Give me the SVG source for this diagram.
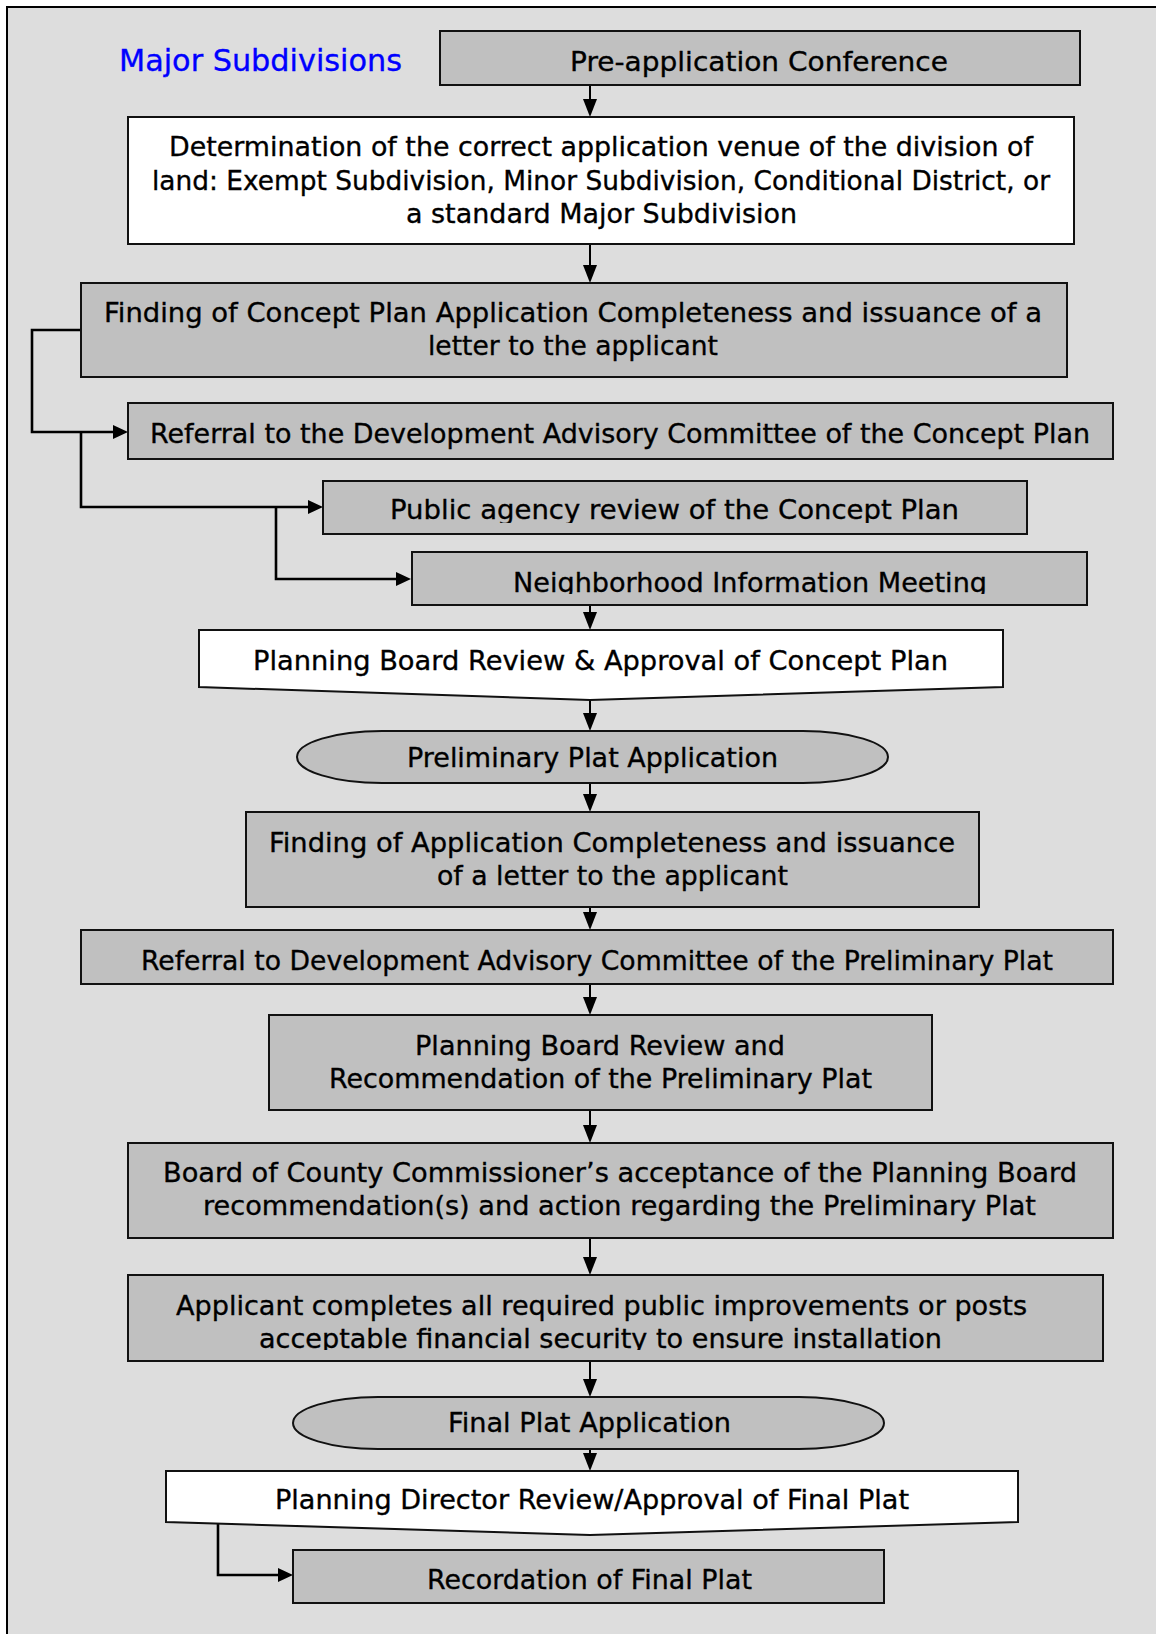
<svg xmlns="http://www.w3.org/2000/svg" width="1156" height="1634" viewBox="0 0 1156 1634">
<style>
.box{fill:#c0c0c0;stroke:#111;stroke-width:2}
.wbox{fill:#ffffff;stroke:#111;stroke-width:2}
.t{font-family:"DejaVu Sans","Liberation Sans",sans-serif;font-size:27px;fill:#000;stroke:#000;stroke-width:0.35;text-anchor:middle}
.title{font-family:"DejaVu Sans","Liberation Sans",sans-serif;font-size:30px;fill:#0000ff;stroke:#0000ff;stroke-width:0.35;text-anchor:middle}
.c{fill:none;stroke:#000;stroke-width:2}
.b{fill:none;stroke:#000;stroke-width:2.6}
</style>
<defs>
<marker id="av" markerUnits="userSpaceOnUse" markerWidth="18" markerHeight="14" refX="0" refY="7" orient="auto" overflow="visible">
<path d="M0,0 L18,7 L0,14 z" fill="#000"/>
</marker>
<marker id="ah" markerUnits="userSpaceOnUse" markerWidth="15" markerHeight="14" refX="0" refY="7" orient="auto" overflow="visible">
<path d="M0,0 L15,7 L0,14 z" fill="#000"/>
</marker>
<clipPath id="clipPublic"><rect x="323" y="482" width="704" height="41"/></clipPath>
<clipPath id="clipNeigh"><rect x="412" y="553" width="675" height="41"/></clipPath>
<clipPath id="clipApp"><rect x="128" y="1276" width="975" height="74"/></clipPath>
</defs>
<rect x="7" y="7" width="1170" height="1650" fill="#dddddd" stroke="#000" stroke-width="2"/>
<text id="title" class="title" x="260.5" y="71" textLength="283" lengthAdjust="spacingAndGlyphs">Major Subdivisions</text>
<g id="connectors">
<line class="c" x1="590" y1="85" x2="590" y2="99" marker-end="url(#av)"/>
<line class="c" x1="590" y1="244" x2="590" y2="265" marker-end="url(#av)"/>
<line class="c" x1="590" y1="605" x2="590" y2="612" marker-end="url(#av)"/>
<line class="c" x1="590" y1="700" x2="590" y2="713" marker-end="url(#av)"/>
<line class="c" x1="590" y1="783" x2="590" y2="794" marker-end="url(#av)"/>
<line class="c" x1="590" y1="907" x2="590" y2="912" marker-end="url(#av)"/>
<line class="c" x1="590" y1="984" x2="590" y2="997" marker-end="url(#av)"/>
<line class="c" x1="590" y1="1110" x2="590" y2="1125" marker-end="url(#av)"/>
<line class="c" x1="590" y1="1238" x2="590" y2="1257" marker-end="url(#av)"/>
<line class="c" x1="590" y1="1361" x2="590" y2="1379" marker-end="url(#av)"/>
<line class="c" x1="590" y1="1449" x2="590" y2="1453" marker-end="url(#av)"/>
<path class="b" d="M81,330 H32 V432 H113" marker-end="url(#ah)"/>
<path class="b" d="M81,432 V507 H308" marker-end="url(#ah)"/>
<path class="b" d="M276,507 V579 H396" marker-end="url(#ah)"/>
<path class="b" d="M218,1523 V1575 H278" marker-end="url(#ah)"/>
</g>
<g id="n-preapp">
<rect class="box" x="440" y="31" width="640" height="54"/>
<text class="t" x="759" y="71" textLength="378" lengthAdjust="spacingAndGlyphs">Pre-application Conference</text>
</g>
<g id="n-determination">
<rect class="wbox" x="128" y="117" width="946" height="127"/>
<text class="t" x="601" y="156" textLength="864" lengthAdjust="spacingAndGlyphs">Determination of the correct application venue of the division of</text>
<text class="t" x="601" y="190" textLength="898" lengthAdjust="spacingAndGlyphs">land: Exempt Subdivision, Minor Subdivision, Conditional District, or</text>
<text class="t" x="601.5" y="223" textLength="391" lengthAdjust="spacingAndGlyphs">a standard Major Subdivision</text>
</g>
<g id="n-concept-complete">
<rect class="box" x="81" y="283" width="986" height="94"/>
<text class="t" x="573" y="322" textLength="938" lengthAdjust="spacingAndGlyphs">Finding of Concept Plan Application Completeness and issuance of a</text>
<text class="t" x="573" y="355" textLength="290" lengthAdjust="spacingAndGlyphs">letter to the applicant</text>
</g>
<g id="n-referral-concept">
<rect class="box" x="128" y="403" width="985" height="56"/>
<text class="t" x="620" y="443" textLength="940" lengthAdjust="spacingAndGlyphs">Referral to the Development Advisory Committee of the Concept Plan</text>
</g>
<g id="n-public">
<rect class="box" x="323" y="481" width="704" height="53"/>
<text class="t" x="674.5" y="519" textLength="569" lengthAdjust="spacingAndGlyphs" clip-path="url(#clipPublic)">Public agency review of the Concept Plan</text>
</g>
<g id="n-neighborhood">
<rect class="box" x="412" y="552" width="675" height="53"/>
<text class="t" x="750" y="592" textLength="474" lengthAdjust="spacingAndGlyphs" clip-path="url(#clipNeigh)">Neighborhood Information Meeting</text>
</g>
<g id="n-pb-concept">
<polygon class="wbox" points="199,630 1003,630 1003,687 590,700 199,687"/>
<text class="t" x="600.5" y="670" textLength="695" lengthAdjust="spacingAndGlyphs">Planning Board Review &amp; Approval of Concept Plan</text>
</g>
<g id="n-prelim-app">
<rect class="box" x="297" y="731" width="591" height="52" rx="85" ry="26"/>
<text class="t" x="592.5" y="767" textLength="371" lengthAdjust="spacingAndGlyphs">Preliminary Plat Application</text>
</g>
<g id="n-app-complete">
<rect class="box" x="246" y="812" width="733" height="95"/>
<text class="t" x="612" y="852" textLength="686" lengthAdjust="spacingAndGlyphs">Finding of Application Completeness and issuance</text>
<text class="t" x="612.5" y="885" textLength="351" lengthAdjust="spacingAndGlyphs">of a letter to the applicant</text>
</g>
<g id="n-referral-prelim">
<rect class="box" x="81" y="930" width="1032" height="54"/>
<text class="t" x="597" y="970" textLength="912" lengthAdjust="spacingAndGlyphs">Referral to Development Advisory Committee of the Preliminary Plat</text>
</g>
<g id="n-pb-prelim">
<rect class="box" x="269" y="1015" width="663" height="95"/>
<text class="t" x="600" y="1055" textLength="370" lengthAdjust="spacingAndGlyphs">Planning Board Review and</text>
<text class="t" x="600.5" y="1088" textLength="543" lengthAdjust="spacingAndGlyphs">Recommendation of the Preliminary Plat</text>
</g>
<g id="n-bocc">
<rect class="box" x="128" y="1143" width="985" height="95"/>
<text class="t" x="620" y="1182" textLength="914" lengthAdjust="spacingAndGlyphs">Board of County Commissioner’s acceptance of the Planning Board</text>
<text class="t" x="619.5" y="1215" textLength="833" lengthAdjust="spacingAndGlyphs">recommendation(s) and action regarding the Preliminary Plat</text>
</g>
<g id="n-improvements">
<rect class="box" x="128" y="1275" width="975" height="86"/>
<g clip-path="url(#clipApp)">
<text class="t" x="601.5" y="1315" textLength="851" lengthAdjust="spacingAndGlyphs">Applicant completes all required public improvements or posts</text>
<text class="t" x="600.5" y="1348" textLength="683" lengthAdjust="spacingAndGlyphs">acceptable financial security to ensure installation</text>
</g>
</g>
<g id="n-final-app">
<rect class="box" x="293" y="1397" width="591" height="52" rx="85" ry="26"/>
<text class="t" x="589.5" y="1432" textLength="283" lengthAdjust="spacingAndGlyphs">Final Plat Application</text>
</g>
<g id="n-director">
<polygon class="wbox" points="166,1471 1018,1471 1018,1522 590,1535 166,1522"/>
<text class="t" x="592" y="1509" textLength="634" lengthAdjust="spacingAndGlyphs">Planning Director Review/Approval of Final Plat</text>
</g>
<g id="n-recordation">
<rect class="box" x="293" y="1550" width="591" height="53"/>
<text class="t" x="589.5" y="1589" textLength="325" lengthAdjust="spacingAndGlyphs">Recordation of Final Plat</text>
</g>
</svg>
